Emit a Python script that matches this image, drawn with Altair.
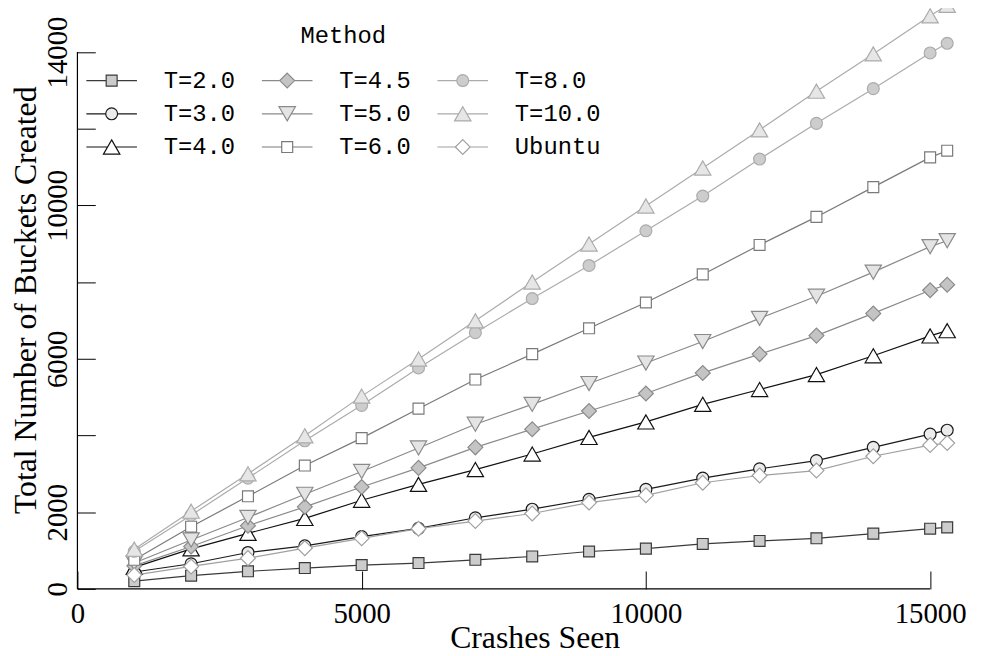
import altair as alt
import pandas as pd

# ---------------- data ----------------
crashes = [1000, 2000, 3000, 4000, 5000, 6000, 7000, 8000, 9000, 10000,
           11000, 12000, 13000, 14000, 15000, 15300]

t20 = [200, 344, 458, 543, 621, 673, 758, 845, 975, 1050, 1172, 1250, 1319, 1440, 1570, 1604]
t30 = [440, 655, 949, 1121, 1363, 1578, 1854, 2078, 2337, 2595, 2889, 3130, 3345, 3691, 4036, 4139]
t40 = [560, 1043, 1449, 1837, 2311, 2725, 3112, 3518, 3950, 4354, 4812, 5200, 5588, 6080, 6597, 6734]
t45 = [600, 1104, 1648, 2139, 2656, 3156, 3691, 4165, 4638, 5096, 5632, 6123, 6605, 7184, 7787, 7934]
t50 = [673, 1276, 1863, 2466, 3061, 3674, 4294, 4812, 5355, 5890, 6450, 7055, 7632, 8260, 8925, 9080]
t60 = [759, 1622, 2414, 3216, 3932, 4700, 5459, 6123, 6796, 7469, 8201, 8969, 9701, 10477, 11253, 11427]
t80 = [980, 1923, 2889, 3862, 4786, 5761, 6682, 7572, 8434, 9339, 10245, 11210, 12141, 13046, 13977, 14229]
t100 = [1035, 2026, 3001, 3992, 5027, 5994, 6990, 8002, 8995, 9986, 10977, 11970, 12979, 13952, 14945, 15220]
ubuntu = [360, 586, 802, 1061, 1319, 1570, 1768, 1966, 2251, 2440, 2768, 2957, 3086, 3459, 3751, 3803]

methods = ["T=2.0", "T=3.0", "T=4.0", "T=4.5", "T=5.0", "T=6.0", "T=8.0", "T=10.0", "Ubuntu"]
series = [t20, t30, t40, t45, t50, t60, t80, t100, ubuntu]

x_ticks = [0, 5000, 10000, 15000]
y_ticks = [0, 2000, 4000, 6000, 8000, 10000, 12000, 14000]
y_labeled = [0, 2000, 6000, 10000, 14000]

# ---------------- styles ----------------
style = {
    "T=2.0":  dict(shape="square",        fill="#cccccc", stroke="#3a3a3a", size=121),
    "T=3.0":  dict(shape="circle",        fill="#ececec", stroke="#1a1a1a", size=144),
    "T=4.0":  dict(shape="triangle-up",   fill="#ffffff", stroke="#111111", size=270),
    "T=4.5":  dict(shape="diamond",       fill="#c4c4c4", stroke="#8a8a8a", size=225),
    "T=5.0":  dict(shape="triangle-down", fill="#e4e4e4", stroke="#8a8a8a", size=270),
    "T=6.0":  dict(shape="square",        fill="#ffffff", stroke="#7a7a7a", size=121),
    "T=8.0":  dict(shape="circle",        fill="#cdcdcd", stroke="#ababab", size=144),
    "T=10.0": dict(shape="triangle-up",   fill="#e6e6e6", stroke="#ababab", size=270),
    "Ubuntu": dict(shape="diamond",       fill="#ffffff", stroke="#a0a0a0", size=225),
}


def legend_path(shape):
    if shape == "square":
        a = 0.216
        return f"M-1,0L{-a},0M{a},0L1,0M{-a},{-a}L{a},{-a}L{a},{a}L{-a},{a}Z"
    if shape == "circle":
        r = 0.235
        return f"M-1,0L{-r},0M{r},0L1,0M{r},0A{r},{r} 0 1,1 {-r},0A{r},{r} 0 1,1 {r},0Z"
    if shape == "diamond":
        r = 0.294
        return f"M-1,0L{-r},0M{r},0L1,0M0,{-r}L{r},0L0,{r}L{-r},0Z"
    r, h = 0.325, 0.2815
    hr = round(r / 2, 4)
    if shape == "triangle-up":
        return f"M-1,0L{-hr},0M{hr},0L1,0M0,{-h}L{r},{h}L{-r},{h}Z"
    return f"M-1,0L{-hr},0M{hr},0L1,0M0,{h}L{r},{-h}L{-r},{-h}Z"


rows = []
for m, vals in zip(methods, series):
    for c, v in zip(crashes, vals):
        rows.append({"Crashes": c, "Buckets": v, "Method": m})
df = pd.DataFrame(rows)

SERIF = "Liberation Serif"
MONO = "Liberation Mono"

x_scale = alt.Scale(domain=[0, 15650], nice=False, zero=False)
y_scale = alt.Scale(domain=[0, 15080], nice=False, zero=False)

label_expr = "indexof([" + ",".join(str(v) for v in y_labeled) + "], datum.value) >= 0 ? datum.label : ''"

x_axis = alt.Axis(values=x_ticks, title="Crashes Seen", format="d",
                  titleFont=SERIF, titleFontSize=32, titleFontWeight="normal", titleColor="black",
                  labelFont=SERIF, labelFontSize=29, labelColor="black", labelPadding=11,
                  labelFlush=False, labelOverlap=False,
                  tickSize=18, offset=-18, domain=False, tickColor="black", tickWidth=1,
                  grid=False, titlePadding=-6, titleX=461)
y_axis = alt.Axis(values=y_ticks, title="Total Number of Buckets Created", format="d",
                  labelExpr=label_expr,
                  titleFont=SERIF, titleFontSize=32, titleFontWeight="normal", titleColor="black",
                  labelFont=SERIF, labelFontSize=29, labelColor="black", labelPadding=11,
                  labelAngle=270, labelAlign="center", labelBaseline="alphabetic",
                  labelFlush=False, labelOverlap=False,
                  tickSize=18, offset=-18, domain=False, tickColor="black", tickWidth=1,
                  grid=False, titlePadding=1)


def X(field="Crashes"):
    return alt.X(f"{field}:Q", scale=x_scale, axis=x_axis, title="Crashes Seen")


def Y(field="Buckets"):
    return alt.Y(f"{field}:Q", scale=y_scale, axis=y_axis, title="Total Number of Buckets Created")


base = alt.Chart(df)
layers = []

# axis lines (range frame: 0..last tick)
xline = pd.DataFrame({"Crashes": [0], "C2": [x_ticks[-1]], "Buckets": [0]})
yline = pd.DataFrame({"Crashes": [0], "Buckets": [0], "B2": [y_ticks[-1]]})
layers.append(alt.Chart(xline).mark_rule(color="black", strokeWidth=1.2).encode(
    x=X(), x2="C2:Q", y=Y()))
layers.append(alt.Chart(yline).mark_rule(color="black", strokeWidth=1.2).encode(
    x=X(), y=Y(), y2="B2:Q"))

for m in methods:
    s = style[m]
    sub = base.transform_filter(alt.datum.Method == m)
    layers.append(sub.mark_line(color=s["stroke"], strokeWidth=1.2).encode(x=X(), y=Y()))
    layers.append(sub.mark_point(shape=s["shape"], filled=True, fill=s["fill"], stroke=s["stroke"],
                                 strokeWidth=1.2, size=s["size"], opacity=1).encode(x=X(), y=Y()))

# legend-only layer (legend fills columns top-to-bottom)
legend_layer = base.transform_filter("false").mark_point(filled=True, opacity=1).encode(
    x=X(), y=Y(),
    shape=alt.Shape("Method:N", title="Method",
                    scale=alt.Scale(domain=methods,
                                    range=[legend_path(style[m]["shape"]) for m in methods])),
    fill=alt.Fill("Method:N", title="Method",
                  scale=alt.Scale(domain=methods, range=[style[m]["fill"] for m in methods])),
    stroke=alt.Stroke("Method:N", title="Method",
                      scale=alt.Scale(domain=methods, range=[style[m]["stroke"] for m in methods])),
)
layers.append(legend_layer)

chart = alt.layer(*layers).properties(
    width=897, height=583,
    autosize=alt.AutoSizeParams(type="none"),
    padding={"left": 70, "top": 0, "right": 10, "bottom": 65},
    background="white",
).configure_view(stroke=None).configure_legend(
    orient="none", legendX=8, legendY=14, columns=3,
    symbolSize=2601, clipHeight=31, rowPadding=2.5, columnPadding=25,
    labelOffset=26, labelFont=MONO, labelFontSize=24, labelColor="black", labelLimit=0,
    titleFont=MONO, titleFontSize=24, titleFontWeight="normal", titleColor="black",
    titleAnchor="middle", titlePadding=17, padding=0, symbolStrokeWidth=1.2, symbolOpacity=1,
)

chart.save("out.html", embed_options={"renderer": "svg", "actions": False})
